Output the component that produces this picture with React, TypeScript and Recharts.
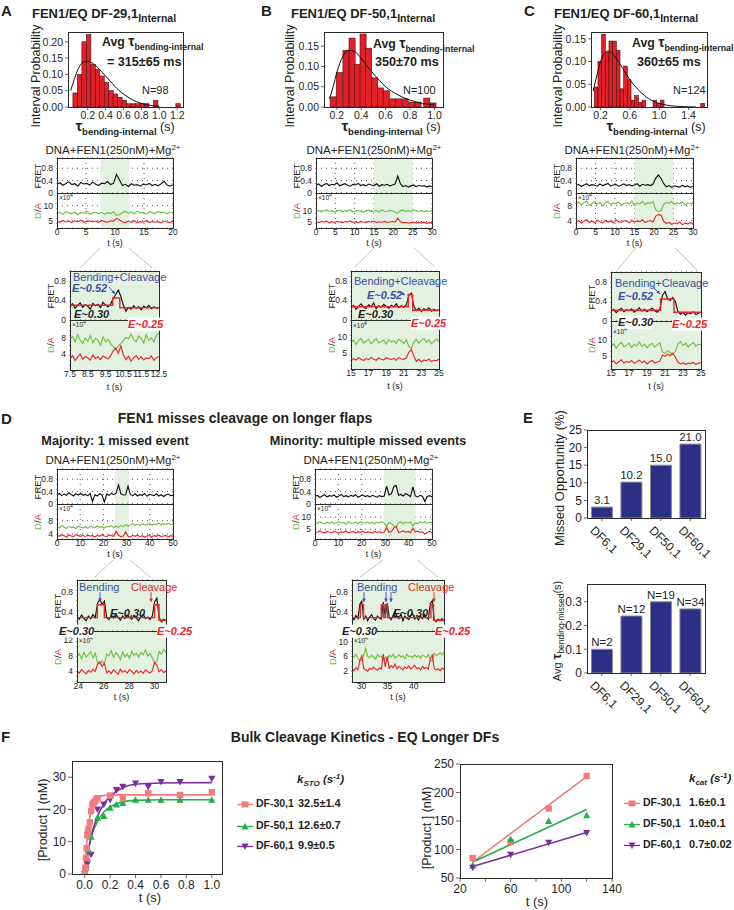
import React from "react";
import {
  ComposedChart,
  Line,
  Bar,
  XAxis,
  YAxis,
  CartesianGrid,
  ReferenceArea,
  Scatter,
  LabelList,
} from "recharts";

const FONT = "Arial, 'Liberation Sans', Helvetica, sans-serif";
const INK = "#231f20";
const SHADE = "#e3f1e0";
const GREEN_TR = "#6fbf45";
const RED_TR = "#e8262b";
const BLUE_TXT = "#3b4fa3";
const NAVY = "#2b2f86";
const PINK = "#f27b7e";
const GRN = "#25ad4a";
const PURP = "#7a2e9c";

// ---------- A/B/C histograms (bin centre, probability) ----------
const histA_x = [0.06, 0.11, 0.16, 0.21, 0.26, 0.31, 0.36, 0.41, 0.46, 0.51, 0.56, 0.61, 0.66, 0.71, 0.76, 0.81, 0.86, 0.96, 1.21];
const histA_p = [0.043, 0.1, 0.2, 0.222, 0.13, 0.115, 0.095, 0.075, 0.05, 0.04, 0.03, 0.02, 0.01, 0.01, 0.01, 0.01, 0.01, 0.02, 0.01];
const fitA_x = [0.01, 0.05, 0.1, 0.15, 0.2, 0.25, 0.3, 0.35, 0.4, 0.45, 0.5, 0.6, 0.7, 0.8, 0.9, 1.0];
const fitA_p = [0.05, 0.085, 0.12, 0.137, 0.14, 0.135, 0.124, 0.11, 0.095, 0.08, 0.064, 0.04, 0.022, 0.011, 0.005, 0.002];

const histB_x = [0.17, 0.22, 0.275, 0.325, 0.37, 0.415, 0.46, 0.51, 0.557, 0.605, 0.653, 0.705, 0.76, 0.815, 0.865, 0.937, 0.988];
const histB_p = [0.025, 0.085, 0.14, 0.17, 0.105, 0.18, 0.145, 0.072, 0.047, 0.04, 0.02, 0.02, 0.02, 0.012, 0.012, 0.022, 0.01];
const fitB_x = [0.14, 0.17, 0.2, 0.25, 0.3, 0.35, 0.4, 0.45, 0.5, 0.55, 0.6, 0.7, 0.8, 0.9, 1.0];
const fitB_p = [0.02, 0.05, 0.085, 0.125, 0.14, 0.136, 0.12, 0.1, 0.082, 0.065, 0.05, 0.03, 0.017, 0.009, 0.005];

const histC_x = [0.14, 0.19, 0.24, 0.29, 0.34, 0.39, 0.44, 0.49, 0.54, 0.59, 0.64, 0.69, 0.74, 0.79, 0.94, 0.99, 1.04, 1.59];
const histC_p = [0.044, 0.1, 0.16, 0.12, 0.145, 0.145, 0.125, 0.04, 0.09, 0.06, 0.015, 0.025, 0.01, 0.015, 0.015, 0.008, 0.015, 0.008];
const fitC_x = [0.1, 0.15, 0.2, 0.25, 0.3, 0.35, 0.4, 0.5, 0.6, 0.7, 0.8, 0.9, 1.0, 1.2, 1.5];
const fitC_p = [0.035, 0.07, 0.1, 0.118, 0.123, 0.12, 0.11, 0.085, 0.06, 0.04, 0.025, 0.014, 0.008, 0.002, 0.0];

// ---------- smFRET traces: FRET in 1/100, D/A in 1/10 of x10^4 ----------
const fA = [28, 33, 25, 31, 36, 27, 30, 22, 34, 29, 31, 26, 35, 28, 24, 32, 30, 37, 27, 31, 60, 42, 24, 28, 21, 30, 25, 27, 22, 29, 26, 31, 24, 28, 23, 30, 38, 26, 22, 27];
const gA = [74, 78, 71, 80, 76, 73, 79, 70, 77, 75, 82, 72, 76, 79, 73, 78, 71, 77, 74, 80, 68, 70, 77, 81, 75, 79, 73, 82, 76, 78, 72, 80, 77, 74, 81, 76, 79, 73, 78, 75];
const rA = [48, 45, 51, 46, 49, 44, 50, 47, 52, 45, 48, 50, 46, 49, 44, 51, 47, 45, 50, 48, 58, 53, 46, 44, 49, 45, 50, 43, 47, 46, 50, 44, 48, 45, 47, 43, 49, 46, 44, 48];
const fAz = [27, 33, 24, 30, 35, 26, 31, 28, 22, 34, 29, 32, 25, 36, 30, 27, 33, 44, 52, 61, 48, 30, 18, 26, 22, 29, 24, 27, 21, 28, 25, 30, 23, 27, 24, 26];
const gAz = [78, 84, 70, 88, 75, 66, 80, 72, 86, 68, 79, 74, 62, 83, 70, 77, 65, 58, 52, 60, 66, 74, 82, 78, 90, 76, 71, 85, 79, 68, 88, 74, 80, 70, 86, 92];
const rAz = [28, 36, 24, 32, 40, 27, 34, 30, 25, 38, 29, 33, 26, 35, 31, 28, 36, 48, 55, 42, 60, 38, 26, 34, 22, 30, 36, 27, 33, 25, 30, 28, 35, 24, 31, 34];
const stepA_t = [7.5, 9.9, 10.3, 12.5];
const stepA_v = [0.3, 0.45, 0.25, 0.25];

const fB = [25, 29, 22, 27, 31, 24, 28, 26, 33, 23, 27, 30, 25, 22, 28, 26, 31, 24, 27, 23, 29, 26, 24, 30, 22, 27, 25, 28, 23, 26, 29, 55, 30, 21, 24, 19, 23, 26, 20, 25, 22, 24, 19, 23, 21];
const gB = [98, 102, 95, 100, 104, 97, 101, 94, 99, 103, 96, 100, 98, 105, 95, 99, 102, 97, 94, 100, 103, 96, 99, 101, 95, 104, 98, 97, 102, 99, 95, 88, 100, 103, 97, 101, 96, 104, 99, 98, 102, 95, 100, 97, 101];
const rB = [48, 45, 50, 47, 52, 44, 49, 46, 51, 48, 45, 50, 47, 53, 46, 49, 44, 51, 48, 46, 50, 47, 52, 45, 49, 47, 51, 46, 48, 50, 47, 66, 50, 44, 46, 42, 45, 48, 43, 46, 44, 47, 42, 45, 44];
const fBz = [25, 30, 22, 28, 33, 26, 24, 31, 27, 35, 23, 29, 26, 32, 28, 24, 30, 27, 33, 25, 29, 26, 31, 50, 55, 28, 19, 24, 17, 23, 20, 25, 18, 22, 19, 21];
const gBz = [82, 90, 76, 88, 95, 80, 86, 92, 78, 87, 94, 81, 85, 89, 77, 91, 84, 88, 80, 93, 86, 79, 90, 70, 62, 84, 92, 80, 88, 95, 83, 90, 78, 86, 93, 85];
const rBz = [25, 32, 28, 35, 30, 26, 33, 29, 36, 31, 27, 34, 30, 28, 35, 32, 29, 33, 27, 36, 31, 30, 34, 52, 60, 40, 24, 30, 22, 28, 25, 31, 23, 27, 26, 30];
const stepB_t = [15, 21.5, 22, 25];
const stepB_v = [0.27, 0.52, 0.2, 0.2];

const fC = [24, 28, 21, 26, 30, 23, 27, 25, 22, 29, 24, 27, 31, 23, 26, 28, 22, 25, 29, 24, 27, 23, 26, 30, 22, 28, 25, 27, 24, 29, 48, 58, 46, 30, 20, 24, 18, 23, 21, 19, 25, 20, 23, 18, 22];
const gC = [85, 90, 82, 88, 93, 80, 86, 91, 84, 89, 79, 87, 92, 83, 88, 85, 90, 81, 86, 89, 84, 92, 80, 87, 85, 91, 83, 88, 86, 90, 70, 64, 67, 84, 89, 86, 91, 83, 88, 85, 90, 82, 87, 84, 89];
const rC = [36, 40, 33, 38, 42, 35, 39, 34, 41, 37, 33, 40, 36, 39, 34, 42, 37, 35, 40, 38, 34, 41, 36, 39, 37, 42, 35, 38, 40, 36, 52, 56, 54, 38, 32, 35, 30, 34, 31, 36, 29, 33, 31, 35, 30];
const fCz = [20, 24, 17, 22, 26, 19, 23, 21, 25, 18, 22, 27, 20, 24, 19, 23, 26, 21, 18, 24, 52, 60, 45, 42, 48, 40, 20, 14, 18, 12, 17, 15, 19, 13, 16, 18];
const gCz = [80, 88, 74, 85, 92, 78, 83, 90, 76, 86, 81, 94, 79, 87, 75, 84, 89, 77, 85, 91, 62, 58, 66, 60, 55, 64, 88, 95, 82, 90, 78, 86, 92, 80, 87, 84];
const rCz = [28, 34, 25, 31, 37, 27, 32, 29, 35, 26, 30, 36, 28, 33, 24, 31, 35, 27, 30, 33, 52, 48, 55, 50, 58, 46, 30, 24, 28, 22, 27, 25, 29, 23, 26, 28];
const stepC_t = [15, 20.5, 22, 25];
const stepC_v = [0.22, 0.45, 0.18, 0.18];

const fDL = [30, 34, 27, 32, 28, 36, 31, 26, 33, 29, 35, 28, 31, 27, 34, 8, 30, 26, 33, 29, 6, 32, 28, 35, 30, 36, 62, 33, 29, 30, 58, 31, 27, 33, 26, 30, 28, 34, 25, 31, 29, 27, 33, 26, 30, 24, 29, 32, 27, 28];
const gDL = [62, 58, 65, 60, 57, 63, 59, 61, 56, 64, 60, 58, 62, 57, 63, 61, 59, 64, 60, 62, 58, 63, 61, 65, 59, 64, 60, 66, 62, 68, 64, 67, 70, 66, 69, 65, 71, 67, 68, 72, 66, 70, 68, 73, 67, 71, 69, 72, 68, 70];
const rDL = [36, 33, 38, 35, 31, 37, 34, 32, 38, 35, 33, 36, 32, 37, 34, 35, 31, 36, 33, 38, 34, 32, 37, 35, 33, 48, 36, 32, 34, 46, 33, 31, 36, 33, 37, 32, 35, 30, 34, 36, 31, 35, 33, 37, 32, 34, 36, 31, 35, 33];
const fDLz = [32, 27, 35, 29, 24, 33, 28, 36, 30, 58, 66, 55, 62, 30, 26, 34, 29, 37, 31, 25, 33, 28, 35, 30, 27, 34, 29, 24, 32, 36, 28, 31, 26, 33, 60, 68, 30, 22, 27, 24];
const gDLz = [78, 85, 72, 88, 76, 82, 90, 74, 86, 62, 58, 66, 60, 84, 79, 92, 75, 87, 81, 70, 89, 77, 84, 73, 91, 80, 86, 76, 88, 82, 95, 79, 85, 74, 60, 66, 90, 84, 96, 88];
const rDLz = [40, 35, 44, 38, 33, 42, 37, 45, 39, 58, 64, 52, 60, 36, 41, 34, 43, 38, 32, 45, 37, 41, 35, 44, 39, 33, 42, 36, 40, 34, 43, 38, 35, 41, 62, 55, 38, 43, 36, 41];
const stepDL_t = [23.9, 25.5, 26.05, 30.0, 30.35, 30.9];
const stepDL_v = [0.3, 0.55, 0.3, 0.55, 0.25, 0.25];

const fDR = [24, 28, 21, 26, 30, 23, 27, 25, 29, 22, 26, 31, 24, 27, 23, 28, 25, 30, 22, 26, 29, 24, 27, 23, 28, 25, 22, 27, 24, 26, 58, 29, 33, 56, 60, 28, 31, 26, 34, 29, 24, 55, 26, 22, 28, 25, 8, 24, 27, 23];
const gDR = [78, 74, 81, 76, 72, 79, 75, 80, 73, 77, 82, 75, 78, 71, 80, 76, 74, 79, 73, 81, 77, 75, 80, 74, 78, 72, 79, 76, 81, 75, 62, 78, 74, 64, 60, 77, 80, 73, 79, 75, 81, 64, 77, 74, 80, 76, 82, 75, 79, 78];
const rDR = [40, 37, 43, 38, 35, 41, 39, 36, 42, 38, 34, 40, 37, 43, 36, 39, 41, 35, 40, 37, 42, 36, 39, 38, 35, 41, 37, 40, 36, 39, 58, 38, 41, 56, 62, 37, 40, 43, 38, 41, 36, 55, 39, 42, 37, 40, 30, 38, 41, 36];
const fDRz = [30, 26, 34, 28, 56, 62, 27, 33, 24, 31, 36, 28, 25, 33, 29, 27, 60, 31, 58, 30, 26, 35, 42, 31, 28, 37, 24, 33, 29, 26, 34, 38, 27, 31, 25, 33, 28, 36, 30, 27, 57, 63, 26, 22, 27, 24, 28, 23];
const gDRz = [62, 58, 66, 54, 50, 48, 64, 82, 60, 56, 63, 58, 52, 65, 59, 61, 48, 57, 50, 63, 58, 66, 55, 60, 64, 57, 62, 53, 66, 59, 61, 56, 64, 58, 62, 55, 63, 60, 57, 65, 50, 46, 68, 62, 66, 70, 64, 72];
const rDRz = [24, 20, 28, 22, 48, 62, 26, 22, 18, 27, 23, 30, 25, 21, 28, 24, 66, 30, 60, 26, 34, 28, 38, 25, 32, 27, 22, 30, 26, 33, 24, 29, 35, 25, 28, 22, 31, 26, 29, 24, 52, 64, 26, 22, 25, 20, 27, 23];
const stepDR_t = [28.2, 29.8, 30.4, 33.8, 34.2, 34.6, 35.0, 43.3, 43.8, 45.8];
const stepDR_v = [0.3, 0.55, 0.3, 0.55, 0.3, 0.55, 0.3, 0.55, 0.25, 0.25];

// ---------- E ----------
const eCats = ["DF6,1", "DF29,1", "DF50,1", "DF60,1"];
const eMissed = [3.1, 10.2, 15.0, 21.0];
const eTau = [0.1, 0.24, 0.3, 0.27];
const eN = ["N=2", "N=12", "N=19", "N=34"];

// ---------- F ----------
const stoPink_t = [0, 0.005, 0.01, 0.015, 0.02, 0.025, 0.03, 0.04, 0.05, 0.06, 0.07, 0.08, 0.09, 0.1, 0.2, 0.3, 0.5, 0.75, 1.0];
const stoPink_v = [0, 2, 5, 8, 12, 13, 14, 16, 19.5, 21.5, 22, 22.5, 23, 23.5, 24.3, 23.5, 25, 24.5, 25.3];
const stoGrn_t = [0, 0.01, 0.02, 0.03, 0.05, 0.1, 0.15, 0.2, 0.25, 0.3, 0.4, 0.5, 0.6, 0.75, 1.0];
const stoGrn_v = [0, 2, 5, 7.5, 11.5, 17.5, 18, 20.5, 21.5, 22, 23, 23, 23, 23, 23];
const stoPur_t = [0, 0.01, 0.02, 0.05, 0.1, 0.15, 0.2, 0.25, 0.3, 0.4, 0.5, 0.6, 0.75, 1.0];
const stoPur_v = [0, 1.5, 3, 6, 20, 21.5, 23, 26, 27, 28, 27, 28.5, 28.5, 29.5];
const stoFitPink_t = [0, 0.02, 0.04, 0.06, 0.08, 0.1, 0.15, 0.2, 1.0];
const stoFitPink_v = [0, 11.5, 17.7, 21, 22.7, 23.6, 24.3, 24.5, 24.5];
const stoFitGrn_t = [0, 0.02, 0.05, 0.1, 0.15, 0.2, 0.3, 0.4, 0.6, 1.0];
const stoFitGrn_v = [0, 5.3, 11.2, 16.2, 19.2, 20.8, 22.4, 22.8, 23, 23];
const stoFitPur_t = [0, 0.02, 0.05, 0.1, 0.15, 0.2, 0.3, 0.4, 0.6, 1.0];
const stoFitPur_v = [0, 5.2, 11.5, 17.8, 21.7, 24, 26.8, 27.8, 28.2, 28.3];

const cat_t = [30, 60, 90, 120];
const catPink_v = [85, 113, 172, 229];
const catGrn_v = [72, 118, 150, 160];
const catPur_v = [68, 91, 112, 129];
const catFit_t = [30, 120];
const catFitPink_v = [78, 228];
const catFitGrn_v = [78, 170];
const catFitPur_v = [70, 130];

// ---------- helpers ----------
const pairs = (xs: number[], ys: number[]) => xs.map((t, i) => ({ t, v: ys[i] }));
const series = (span: number[], vals: number[], k: number) =>
  vals.map((v, i) => ({ t: span[0] + ((span[1] - span[0]) * i) / (vals.length - 1), v: v * k }));

type TxtProps = {
  x: number; y: number; s?: number; c?: string; b?: boolean; i?: boolean;
  a?: "s" | "m" | "e"; r?: number; bg?: string; children: React.ReactNode;
};
function Txt({ x, y, s = 11, c = INK, b, i, a = "s", r, bg, children }: TxtProps) {
  const tx = a === "m" ? "-50%" : a === "e" ? "-100%" : "0";
  return (
    <div
      style={{
        position: "absolute", left: x, top: y, fontSize: s, color: c,
        fontWeight: b ? 700 : 400, fontStyle: i ? "italic" : "normal",
        whiteSpace: "nowrap", lineHeight: 1.15, background: bg,
        transform: `translate(${tx},-50%)${r ? ` rotate(${r}deg)` : ""}`,
      }}
    >
      {children}
    </div>
  );
}
const Sub = ({ s, children, b }: { s: number; children: React.ReactNode; b?: boolean }) => (
  <span style={{ fontSize: s, position: "relative", top: "0.4em", fontWeight: b ? 700 : undefined }}>{children}</span>
);
const Sup = ({ s, children }: { s: number; children: React.ReactNode }) => (
  <span style={{ fontSize: s, position: "relative", top: "-0.55em" }}>{children}</span>
);
const At = ({ x, y, children }: { x: number; y: number; children: React.ReactNode }) => (
  <div style={{ position: "absolute", left: x, top: y }}>{children}</div>
);
const Frame = ({ x, y, w, h, c = "#2a2a2a", bw = 1 }: { x: number; y: number; w: number; h: number; c?: string; bw?: number }) => (
  <div style={{ position: "absolute", left: x - 0.5, top: y - 0.5, width: w + 1, height: h + 1, border: `${bw}px solid ${c}`, boxSizing: "border-box", pointerEvents: "none" }} />
);

// ---------- histogram ----------
type HistProps = {
  x: number; y: number; w: number; h: number; xDom: [number, number]; xTicks: number[];
  yDom: [number, number]; yTicks: number[]; bx: number[]; bp: number[]; cx: number[]; cp: number[];
};
function Hist(p: HistProps) {
  const L = 28, T = 6, R = 10, XH = 18;
  const rows = pairs(p.bx, p.bp);
  const curve = pairs(p.cx, p.cp);
  const bw = (0.05 * p.w) / (p.xDom[1] - p.xDom[0]);
  const tick = { fontSize: 10.5, fill: INK };
  const binShape = (b: any) => (
    <rect x={b.x + b.width / 2 - bw / 2} y={b.y} width={bw} height={Math.max(0, b.height)} fill="#e2202a" stroke="#4a0c0c" strokeWidth={0.6} />
  );
  return (
    <>
      <At x={p.x - L} y={p.y - T}>
        <ComposedChart width={p.w + L + R} height={p.h + T + XH} data={rows} margin={{ top: T, right: R, left: 0, bottom: 0 }}>
          <XAxis type="number" dataKey="t" domain={p.xDom} ticks={p.xTicks} interval={0} height={XH} tickSize={3}
            tick={tick} tickFormatter={(v: number) => v.toFixed(1)} axisLine={false} allowDataOverflow />
          <YAxis type="number" domain={p.yDom} ticks={p.yTicks} interval={0} width={L} tickSize={3}
            tick={tick} tickFormatter={(v: number) => v.toFixed(2)} axisLine={false} allowDataOverflow />
          <Bar dataKey="v" shape={binShape} isAnimationActive={false} />
          <Line data={curve} dataKey="v" type="monotone" stroke="#111" strokeWidth={1} dot={false} isAnimationActive={false} />
        </ComposedChart>
      </At>
      <Frame x={p.x} y={p.y} w={p.w} h={p.h} />
    </>
  );
}

// ---------- FRET + D/A trace ----------
type TraceProps = {
  x: number; y: number; w: number; h1: number; h2: number; span: [number, number]; ticks: number[];
  fDom: [number, number]; fTicks: number[]; dDom: [number, number]; dTicks: number[];
  f: number[]; g: number[]; r: number[]; shade: [number, number];
  stepT?: number[]; stepV?: number[]; tl: number; xo?: number;
};
function Trace(p: TraceProps) {
  const L = 22, R = 10, XH = 12, T = 6;
  const tick = { fontSize: 8.5, fill: INK };
  const fret = series(p.span, p.f, 0.01);
  const gr = series(p.span, p.g, 0.1);
  const rd = series(p.span, p.r, 0.1);
  const step = p.stepT && p.stepV ? pairs(p.stepT, p.stepV) : null;
  return (
    <>
      <At x={p.x - L} y={p.y - T}>
        <ComposedChart width={p.w + L + R} height={p.h1 + 2 * T} margin={{ top: T, right: R, left: 0, bottom: T }}>
          <XAxis type="number" dataKey="t" domain={p.span} ticks={p.ticks} interval={0} hide allowDataOverflow />
          <YAxis type="number" domain={p.fDom} ticks={p.fTicks} interval={0} width={L} tick={tick} tickSize={2}
            axisLine={false} tickLine={false} allowDataOverflow />
          <ReferenceArea x1={p.shade[0]} x2={p.shade[1]} fill={SHADE} fillOpacity={1} stroke="none" ifOverflow="hidden" />
          <CartesianGrid stroke="#555" strokeDasharray="1 4" />
          <Line data={fret} dataKey="v" stroke="#111" strokeWidth={1.15} dot={false} isAnimationActive={false} />
          {step && (
            <Line data={step} dataKey="v" type="stepAfter" stroke={RED_TR} strokeWidth={1.4} dot={false} isAnimationActive={false} />
          )}
        </ComposedChart>
      </At>
      <At x={p.x - L} y={p.y + p.h1 - T}>
        <ComposedChart width={p.w + L + R} height={p.h2 + XH + T} margin={{ top: T, right: R, left: 0, bottom: 0 }}>
          <XAxis type="number" dataKey="t" domain={p.span} ticks={p.ticks} interval={0} height={XH} tick={tick}
            tickSize={1} tickMargin={0} axisLine={false} allowDataOverflow />
          <YAxis type="number" domain={p.dDom} ticks={p.dTicks} interval={0} width={L} tick={tick} tickSize={2}
            axisLine={false} tickLine={false} allowDataOverflow />
          <ReferenceArea x1={p.shade[0]} x2={p.shade[1]} fill={SHADE} fillOpacity={1} stroke="none" ifOverflow="hidden" />
          <CartesianGrid stroke="#555" strokeDasharray="1 4" />
          <Line data={gr} dataKey="v" stroke={GREEN_TR} strokeWidth={1.15} dot={false} isAnimationActive={false} />
          <Line data={rd} dataKey="v" stroke={RED_TR} strokeWidth={1.15} dot={false} isAnimationActive={false} />
        </ComposedChart>
      </At>
      <Frame x={p.x} y={p.y} w={p.w} h={p.h1} />
      <Frame x={p.x} y={p.y + p.h1} w={p.w} h={p.h2} />
      <Txt x={p.x - 19} y={p.y + p.h1 / 2} s={9.5} a="m" r={-90}>FRET</Txt>
      <Txt x={p.x - 19} y={p.y + p.h1 + p.h2 / 2} s={9.5} a="m" r={-90}>
        <span style={{ color: GREEN_TR }}>D</span>/<span style={{ color: RED_TR }}>A</span>
      </Txt>
      <Txt x={p.x + 2} y={p.y + p.h1 + (p.xo ?? 5)} s={6.5}>×10<Sup s={5}>4</Sup></Txt>
      <Txt x={p.x + p.w / 2} y={p.y + p.h1 + p.h2 + p.tl} s={9} a="m">t (s)</Txt>
    </>
  );
}

// ---------- E ----------
function SlantTick(props: any) {
  const { x, y, payload } = props;
  const ax = x - 6, ay = y + 2;
  return (
    <text x={ax} y={ay} transform={`rotate(45 ${ax} ${ay})`} fontSize={12} fill={INK} dominantBaseline="hanging">
      {payload.value}
    </text>
  );
}

// ---------- F markers ----------
const sq = (c: string) => (p: any) => <rect x={p.cx - 3.2} y={p.cy - 3.2} width={6.4} height={6.4} fill={c} />;
const up = (c: string) => (p: any) => (
  <polygon points={`${p.cx},${p.cy - 3.6} ${p.cx + 3.6},${p.cy + 3} ${p.cx - 3.6},${p.cy + 3}`} fill={c} />
);
const dn = (c: string) => (p: any) => (
  <polygon points={`${p.cx - 3.6},${p.cy - 3} ${p.cx + 3.6},${p.cy - 3} ${p.cx},${p.cy + 3.6}`} fill={c} />
);
function LegMark({ c, kind }: { c: string; kind: "sq" | "up" | "dn" }) {
  return (
    <svg width={16} height={9} style={{ verticalAlign: "middle" }}>
      <line x1={0} y1={4.5} x2={16} y2={4.5} stroke={c} strokeWidth={1.3} />
      {kind === "sq" && <rect x={4.5} y={1.5} width={7} height={6} fill={c} />}
      {kind === "up" && <polygon points="8,1 11.5,7.5 4.5,7.5" fill={c} />}
      {kind === "dn" && <polygon points="4.5,1.5 11.5,1.5 8,8" fill={c} />}
    </svg>
  );
}

function Arrow({ x1, y1, x2, y2, c }: { x1: number; y1: number; x2: number; y2: number; c: string }) {
  const a = Math.atan2(y2 - y1, x2 - x1);
  const hx = (d: number, s: number) => x2 - 3.5 * Math.cos(a) + s * d * Math.sin(a);
  const hy = (d: number, s: number) => y2 - 3.5 * Math.sin(a) - s * d * Math.cos(a);
  return (
    <g>
      <line x1={x1} y1={y1} x2={x2} y2={y2} stroke={c} strokeWidth={0.9} />
      <polygon points={`${x2},${y2} ${hx(1.8, 1)},${hy(1.8, 1)} ${hx(1.8, -1)},${hy(1.8, -1)}`} fill={c} />
    </g>
  );
}

export default function App() {
  const eRows1 = eCats.map((c, i) => ({ c, v: eMissed[i], lab: eMissed[i].toFixed(1) }));
  const eRows2 = eCats.map((c, i) => ({ c, v: eTau[i], lab: eN[i] }));
  const eTick = { fontSize: 12, fill: INK };
  const fTick = { fontSize: 12, fill: INK };
  const Ez = (x: number, y: number, c: string, t: string, bg?: string) => (
    <Txt x={x} y={y} s={11} b i c={c} bg={bg}>{t}</Txt>
  );
  const AvgTau = ({ x, y }: { x: number; y: number }) => (
    <Txt x={x} y={y} s={12.3} b>
      Avg <span style={{ fontSize: 14 }}>τ</span><Sub s={8.8}>bending-internal</Sub>
    </Txt>
  );
  const XTau = ({ x, y }: { x: number; y: number }) => (
    <Txt x={x} y={y} s={12.5} a="m">
      <b style={{ fontSize: 15 }}>τ</b><Sub s={9.5} b>bending-internal</Sub> (s)
    </Txt>
  );
  const Title = ({ x, t }: { x: number; t: string }) => (
    <Txt x={x} y={14} s={13} b>{t}<Sub s={10.5}>Internal</Sub></Txt>
  );
  const Cond = ({ x, y }: { x: number; y: number }) => (
    <Txt x={x} y={y} s={11.5} a="m">DNA+FEN1(250nM)+Mg<Sup s={8}>2+</Sup></Txt>
  );

  return (
    <div style={{ position: "absolute", left: 0, top: 0, width: 734, height: 910, background: "#fff", fontFamily: FONT, color: INK, overflow: "hidden" }}>
      {/* panel letters */}
      <Txt x={1} y={11} s={15} b>A</Txt>
      <Txt x={261} y={11} s={15} b>B</Txt>
      <Txt x={524} y={11} s={15} b>C</Txt>
      <Txt x={1} y={419} s={15} b>D</Txt>
      <Txt x={523} y={418} s={15} b>E</Txt>
      <Txt x={1} y={737} s={15} b>F</Txt>

      {/* ===== A/B/C histograms ===== */}
      <Title x={32} t="FEN1/EQ DF-29,1" />
      <Title x={291} t="FEN1/EQ DF-50,1" />
      <Title x={554} t="FEN1/EQ DF-60,1" />

      <Hist x={68} y={32} w={115} h={75} xDom={[-0.02, 1.265]} xTicks={[0.2, 0.4, 0.6, 0.8, 1.0, 1.2]}
        yDom={[0, 0.23]} yTicks={[0, 0.05, 0.1, 0.15, 0.2]} bx={histA_x} bp={histA_p} cx={fitA_x} cp={fitA_p} />
      <Hist x={324} y={32} w={119} h={75} xDom={[0.095, 1.07]} xTicks={[0.2, 0.4, 0.6, 0.8, 1.0]}
        yDom={[0, 0.185]} yTicks={[0, 0.05, 0.1, 0.15]} bx={histB_x} bp={histB_p} cx={fitB_x} cp={fitB_p} />
      <Hist x={591} y={32} w={116} h={75} xDom={[0.07, 1.65]} xTicks={[0.2, 0.6, 1.0, 1.4]}
        yDom={[0, 0.165]} yTicks={[0, 0.05, 0.1, 0.15]} bx={histC_x} bp={histC_p} cx={fitC_x} cp={fitC_p} />

      <Txt x={36} y={76} s={12.5} a="m" r={-90}>Interval Probability</Txt>
      <Txt x={290} y={76} s={12.5} a="m" r={-90}>Interval Probability</Txt>
      <Txt x={558} y={76} s={12.5} a="m" r={-90}>Interval Probability</Txt>

      <AvgTau x={102} y={41} />
      <Txt x={107} y={62} s={12.6} b>= 315±65 ms</Txt>
      <Txt x={142} y={90} s={11}>N=98</Txt>
      <AvgTau x={373} y={43} />
      <Txt x={375} y={62} s={12.6} b>350±70 ms</Txt>
      <Txt x={403} y={90} s={11}>N=100</Txt>
      <AvgTau x={632} y={42} />
      <Txt x={637} y={62} s={12.6} b>360±65 ms</Txt>
      <Txt x={673} y={90} s={11}>N=124</Txt>

      <XTau x={125} y={126} />
      <XTau x={391} y={126} />
      <XTau x={656} y={126} />

      {/* ===== A/B/C traces ===== */}
      <Cond x={113} y={151} />
      <Cond x={374} y={151} />
      <Cond x={632} y={151} />

      <Trace x={57} y={158} w={116} h1={35} h2={35} span={[0, 20]} ticks={[0, 5, 10, 15, 20]}
        fDom={[0, 1.13]} fTicks={[0, 0.4, 0.8]} dDom={[2.6, 14.2]} dTicks={[5, 10]}
        f={fA} g={gA} r={rA} shade={[7.5, 12.5]} tl={15} />
      <Trace x={70} y={271} w={89} h1={49} h2={50} span={[7.5, 12.5]} ticks={[7.5, 8.5, 9.5, 10.5, 11.5, 12.5]}
        fDom={[0, 1.0]} fTicks={[0, 0.4, 0.8]} dDom={[0, 12.5]} dTicks={[4, 8]}
        f={fAz} g={gAz} r={rAz} shade={[7.5, 12.5]} stepT={stepA_t} stepV={stepA_v} tl={17} />

      <Trace x={316} y={158} w={116} h1={35} h2={35} span={[0, 30]} ticks={[0, 5, 10, 15, 20, 25, 30]}
        fDom={[0, 1.13]} fTicks={[0, 0.4, 0.8]} dDom={[2, 18.3]} dTicks={[5, 10]}
        f={fB} g={gB} r={rB} shade={[15, 25]} tl={15} />
      <Trace x={351} y={271} w={88} h1={49} h2={49} span={[15, 25]} ticks={[15, 17, 19, 21, 23, 25]}
        fDom={[0, 1.0]} fTicks={[0, 0.4, 0.8]} dDom={[0, 15.2]} dTicks={[5, 10]}
        f={fBz} g={gBz} r={rBz} shade={[15, 25]} stepT={stepB_t} stepV={stepB_v} tl={17} xo={6} />

      <Trace x={576} y={158} w={117} h1={35} h2={35} span={[0, 30]} ticks={[0, 5, 10, 15, 20, 25, 30]}
        fDom={[0, 1.13]} fTicks={[0, 0.4, 0.8]} dDom={[2, 11.4]} dTicks={[4, 8]}
        f={fC} g={gC} r={rC} shade={[15, 25]} tl={15} />
      <Trace x={611} y={272} w={90} h1={49} h2={48} span={[15, 25]} ticks={[15, 17, 19, 21, 23, 25]}
        fDom={[0, 1.0]} fTicks={[0, 0.4, 0.8]} dDom={[0.8, 16]} dTicks={[5, 10]}
        f={fCz} g={gCz} r={rCz} shade={[15, 25]} stepT={stepC_t} stepV={stepC_v} tl={17} xo={11} />

      <Txt x={73} y={277} s={11} c={BLUE_TXT}>Bending+Cleavage</Txt>
      {Ez(72, 288, BLUE_TXT, "E~0.52")}
      {Ez(74, 314, INK, "E~0.30")}
      {Ez(128, 324, RED_TR, "E~0.25", "#fff")}

      <Txt x={354} y={281} s={11} c={BLUE_TXT}>Bending+Cleavage</Txt>
      {Ez(367, 295, BLUE_TXT, "E~0.52")}
      {Ez(358, 314, INK, "E~0.30")}
      {Ez(411, 323, RED_TR, "E~0.25", "#fff")}

      <Txt x={615} y={283} s={11} c={BLUE_TXT}>Bending+Cleavage</Txt>
      {Ez(618, 296, BLUE_TXT, "E~0.52")}
      {Ez(618, 322, INK, "E~0.30", "#fff")}
      {Ez(672, 324, RED_TR, "E~0.25", "#fff")}

      {/* ===== D ===== */}
      <Txt x={245} y={418} s={14} b a="m">FEN1 misses cleavage on longer flaps</Txt>
      <Txt x={115} y={441} s={12.7} b a="m">Majority: 1 missed event</Txt>
      <Txt x={368} y={441} s={12.7} b a="m">Minority: multiple missed events</Txt>
      <Cond x={113} y={461} />
      <Cond x={371} y={461} />

      <Trace x={57} y={469} w={116} h1={35} h2={35} span={[0, 50]} ticks={[0, 10, 20, 30, 40, 50]}
        fDom={[0, 1.13]} fTicks={[0, 0.4, 0.8]} dDom={[2.5, 13]} dTicks={[4, 8]}
        f={fDL} g={gDL} r={rDL} shade={[25, 31]} tl={15} />
      <Trace x={77} y={580} w={89} h1={51} h2={51} span={[23.9, 30.9]} ticks={[24, 26, 28, 30]}
        fDom={[0.04, 1.03]} fTicks={[0.4, 0.8]} dDom={[1.2, 14.3]} dTicks={[4, 8, 12]}
        f={fDLz} g={gDLz} r={rDLz} shade={[23.9, 30.9]} stepT={stepDL_t} stepV={stepDL_v} tl={15} xo={10} />

      <Trace x={315} y={469} w={117} h1={35} h2={35} span={[0, 50]} ticks={[0, 10, 20, 30, 40, 50]}
        fDom={[0, 1.13]} fTicks={[0, 0.4, 0.8]} dDom={[1, 15.4]} dTicks={[5, 10]}
        f={fDR} g={gDR} r={rDR} shade={[29.5, 43]} tl={15} />
      <Trace x={352} y={580} w={92} h1={51} h2={51} span={[28.2, 45.8]} ticks={[30, 35, 40]}
        fDom={[0.04, 1.03]} fTicks={[0.4, 0.8]} dDom={[-1.2, 13.1]} dTicks={[2, 6, 10]}
        f={fDRz} g={gDRz} r={rDRz} shade={[28.2, 45.8]} stepT={stepDR_t} stepV={stepDR_v} tl={15} xo={10} />

      <Txt x={79} y={587} s={11} c={BLUE_TXT}>Bending</Txt>
      <Txt x={131} y={587} s={11} c={RED_TR}>Cleavage</Txt>
      {Ez(110, 613, INK, "E~0.30")}
      {Ez(59, 631, INK, "E~0.30", "#fff")}
      {Ez(157, 631, RED_TR, "E~0.25", "#fff")}

      <Txt x={357} y={587} s={11} c={BLUE_TXT}>Bending</Txt>
      <Txt x={408} y={587} s={11} c={RED_TR}>Cleavage</Txt>
      {Ez(393, 613, INK, "E~0.30")}
      {Ez(342, 631, INK, "E~0.30", "#fff")}
      {Ez(435, 631, RED_TR, "E~0.25", "#fff")}

      {/* ===== E ===== */}
      <At x={587 - 24} y={430 - 6}>
        <ComposedChart width={118 + 24 + 26} height={88 + 6 + 46} data={eRows1} barCategoryGap="15%" margin={{ top: 6, right: 26, left: 0, bottom: 0 }}>
          <XAxis dataKey="c" type="category" height={46} tick={<SlantTick />} tickSize={3} interval={0} axisLine={false} />
          <YAxis type="number" domain={[0, 25]} ticks={[0, 5, 10, 15, 20, 25]} interval={0} width={24} tickSize={3} tick={eTick} axisLine={false} />
          <Bar dataKey="v" fill={NAVY} stroke="#8c8c8c" strokeWidth={1} isAnimationActive={false}>
            <LabelList dataKey="lab" position="top" offset={3} fontSize={11.5} fill={INK} />
          </Bar>
        </ComposedChart>
      </At>
      <Frame x={587} y={430} w={118} h={88} />
      <Txt x={560} y={478} s={13} a="m" r={-90}>Missed Opportunity (%)</Txt>

      <At x={587 - 28} y={584 - 6}>
        <ComposedChart width={118 + 28 + 26} height={89 + 6 + 46} data={eRows2} barCategoryGap="15%" margin={{ top: 6, right: 26, left: 0, bottom: 0 }}>
          <XAxis dataKey="c" type="category" height={46} tick={<SlantTick />} tickSize={3} interval={0} axisLine={false} />
          <YAxis type="number" domain={[0, 0.375]} ticks={[0, 0.1, 0.2, 0.3]} interval={0} width={28} tickSize={3}
            tick={eTick} tickFormatter={(v: number) => (v === 0 ? "0" : v.toFixed(1))} axisLine={false} allowDataOverflow />
          <Bar dataKey="v" fill={NAVY} stroke="#8c8c8c" strokeWidth={1} isAnimationActive={false}>
            <LabelList dataKey="lab" position="top" offset={3} fontSize={11.5} fill={INK} />
          </Bar>
        </ComposedChart>
      </At>
      <Frame x={587} y={584} w={118} h={89} />
      <Txt x={557} y={631} s={11} a="m" r={-90}>
        Avg <b style={{ fontSize: 13 }}>τ</b><Sub s={8.5}>bending-missed</Sub>(s)
      </Txt>

      {/* ===== F ===== */}
      <Txt x={365} y={737} s={14} b a="m">Bulk Cleavage Kinetics - EQ Longer DFs</Txt>

      <At x={72 - 26} y={761 - 8}>
        <ComposedChart width={150 + 26 + 12} height={113 + 8 + 22} margin={{ top: 8, right: 12, left: 0, bottom: 0 }}>
          <XAxis type="number" dataKey="t" domain={[-0.1, 1.08]} ticks={[0, 0.2, 0.4, 0.6, 0.8, 1.0]} interval={0} height={22}
            tickSize={4} tick={fTick} tickFormatter={(v: number) => v.toFixed(1)} axisLine={false} allowDataOverflow />
          <YAxis type="number" dataKey="v" domain={[0, 35]} ticks={[0, 10, 20, 30]} interval={0} width={26} tickSize={4}
            tick={fTick} axisLine={false} allowDataOverflow />
          <Line data={pairs(stoFitPink_t, stoFitPink_v)} dataKey="v" type="monotone" stroke={PINK} strokeWidth={1.6} dot={false} isAnimationActive={false} />
          <Line data={pairs(stoFitGrn_t, stoFitGrn_v)} dataKey="v" type="monotone" stroke={GRN} strokeWidth={1.6} dot={false} isAnimationActive={false} />
          <Line data={pairs(stoFitPur_t, stoFitPur_v)} dataKey="v" type="monotone" stroke={PURP} strokeWidth={1.6} dot={false} isAnimationActive={false} />
          <Scatter data={pairs(stoPur_t, stoPur_v)} dataKey="v" shape={dn(PURP)} isAnimationActive={false} />
          <Scatter data={pairs(stoGrn_t, stoGrn_v)} dataKey="v" shape={up(GRN)} isAnimationActive={false} />
          <Scatter data={pairs(stoPink_t, stoPink_v)} dataKey="v" shape={sq(PINK)} isAnimationActive={false} />
        </ComposedChart>
      </At>
      <Frame x={72} y={761} w={150} h={113} bw={1.3} />
      <Txt x={43} y={820} s={12.5} a="m" r={-90}>[Product ] (nM)</Txt>
      <Txt x={150} y={898} s={13} a="m">t (s)</Txt>

      <Txt x={297} y={780} s={11.5} b i>k<Sub s={8}>STO</Sub> (s<Sup s={8}>-1</Sup>)</Txt>
      <Txt x={237} y={803} s={10.5} b><LegMark c={PINK} kind="sq" /> DF-30,1</Txt>
      <Txt x={298} y={803} s={11} b>32.5±1.4</Txt>
      <Txt x={237} y={825} s={10.5} b><LegMark c={GRN} kind="up" /> DF-50,1</Txt>
      <Txt x={298} y={825} s={11} b>12.6±0.7</Txt>
      <Txt x={237} y={845} s={10.5} b><LegMark c={PURP} kind="dn" /> DF-60,1</Txt>
      <Txt x={298} y={845} s={11} b>9.9±0.5</Txt>

      <At x={460 - 32} y={764 - 8}>
        <ComposedChart width={152 + 32 + 14} height={114 + 8 + 24} margin={{ top: 8, right: 14, left: 0, bottom: 0 }}>
          <XAxis type="number" dataKey="t" domain={[20, 140]} ticks={[20, 40, 60, 80, 100, 120, 140]} interval={0} height={24}
            tickSize={4} tick={fTick} tickFormatter={(v: number) => (v % 40 === 20 ? String(v) : "")} axisLine={false} allowDataOverflow />
          <YAxis type="number" dataKey="v" domain={[50, 250]} ticks={[50, 100, 150, 200, 250]} interval={0} width={32} tickSize={4}
            tick={fTick} axisLine={false} allowDataOverflow />
          <Line data={pairs(catFit_t, catFitPink_v)} dataKey="v" stroke={PINK} strokeWidth={1.6} dot={false} isAnimationActive={false} />
          <Line data={pairs(catFit_t, catFitGrn_v)} dataKey="v" stroke={GRN} strokeWidth={1.6} dot={false} isAnimationActive={false} />
          <Line data={pairs(catFit_t, catFitPur_v)} dataKey="v" stroke={PURP} strokeWidth={1.6} dot={false} isAnimationActive={false} />
          <Scatter data={pairs(cat_t, catPink_v)} dataKey="v" shape={sq(PINK)} isAnimationActive={false} />
          <Scatter data={pairs(cat_t, catGrn_v)} dataKey="v" shape={up(GRN)} isAnimationActive={false} />
          <Scatter data={pairs(cat_t, catPur_v)} dataKey="v" shape={dn(PURP)} isAnimationActive={false} />
        </ComposedChart>
      </At>
      <Frame x={460} y={764} w={152} h={114} bw={1.3} />
      <Txt x={427} y={828} s={12.5} a="m" r={-90}>[Product ] (nM)</Txt>
      <Txt x={537} y={902} s={13} a="m">t (s)</Txt>

      <Txt x={689} y={779} s={11.5} b i>k<Sub s={8}>cat</Sub> (s<Sup s={8}>-1</Sup>)</Txt>
      <Txt x={624} y={802} s={10.5} b><LegMark c={PINK} kind="sq" /> DF-30,1</Txt>
      <Txt x={689} y={802} s={11} b>1.6±0.1</Txt>
      <Txt x={624} y={823} s={10.5} b><LegMark c={GRN} kind="up" /> DF-50,1</Txt>
      <Txt x={689} y={823} s={11} b>1.0±0.1</Txt>
      <Txt x={624} y={844} s={10.5} b><LegMark c={PURP} kind="dn" /> DF-60,1</Txt>
      <Txt x={689} y={844} s={11} b>0.7±0.02</Txt>

      {/* zoom connectors and event arrows */}
      <svg width={734} height={910} style={{ position: "absolute", left: 0, top: 0, pointerEvents: "none" }}>
        <g stroke="#b5b5b5" strokeWidth={0.8}>
          <line x1={100} y1={248} x2={80} y2={268} />
          <line x1={129} y1={248} x2={152} y2={268} />
          <line x1={374} y1={248} x2={355} y2={267} />
          <line x1={414} y1={248} x2={435} y2={267} />
          <line x1={636} y1={248} x2={617} y2={270} />
          <line x1={675} y1={248} x2={697} y2={270} />
          <line x1={113} y1={560} x2={95} y2={577} />
          <line x1={130} y1={560} x2={150} y2={577} />
          <line x1={383} y1={560} x2={360} y2={577} />
          <line x1={417} y1={560} x2={438} y2={577} />
        </g>
        <Arrow x1={109} y1={287} x2={115} y2={294} c={BLUE_TXT} />
        <Arrow x1={398} y1={291} x2={405} y2={295} c={BLUE_TXT} />
        <Arrow x1={653} y1={287} x2={660} y2={294} c={BLUE_TXT} />
        <Arrow x1={100} y1={592} x2={100} y2={602} c={BLUE_TXT} />
        <Arrow x1={151} y1={592} x2={151} y2={602} c={RED_TR} />
        <Arrow x1={364} y1={592} x2={364} y2={602} c={BLUE_TXT} />
        <Arrow x1={386} y1={592} x2={386} y2={602} c={BLUE_TXT} />
        <Arrow x1={391} y1={592} x2={391} y2={602} c={BLUE_TXT} />
        <Arrow x1={434} y1={592} x2={434} y2={602} c={RED_TR} />
      </svg>
    </div>
  );
}
